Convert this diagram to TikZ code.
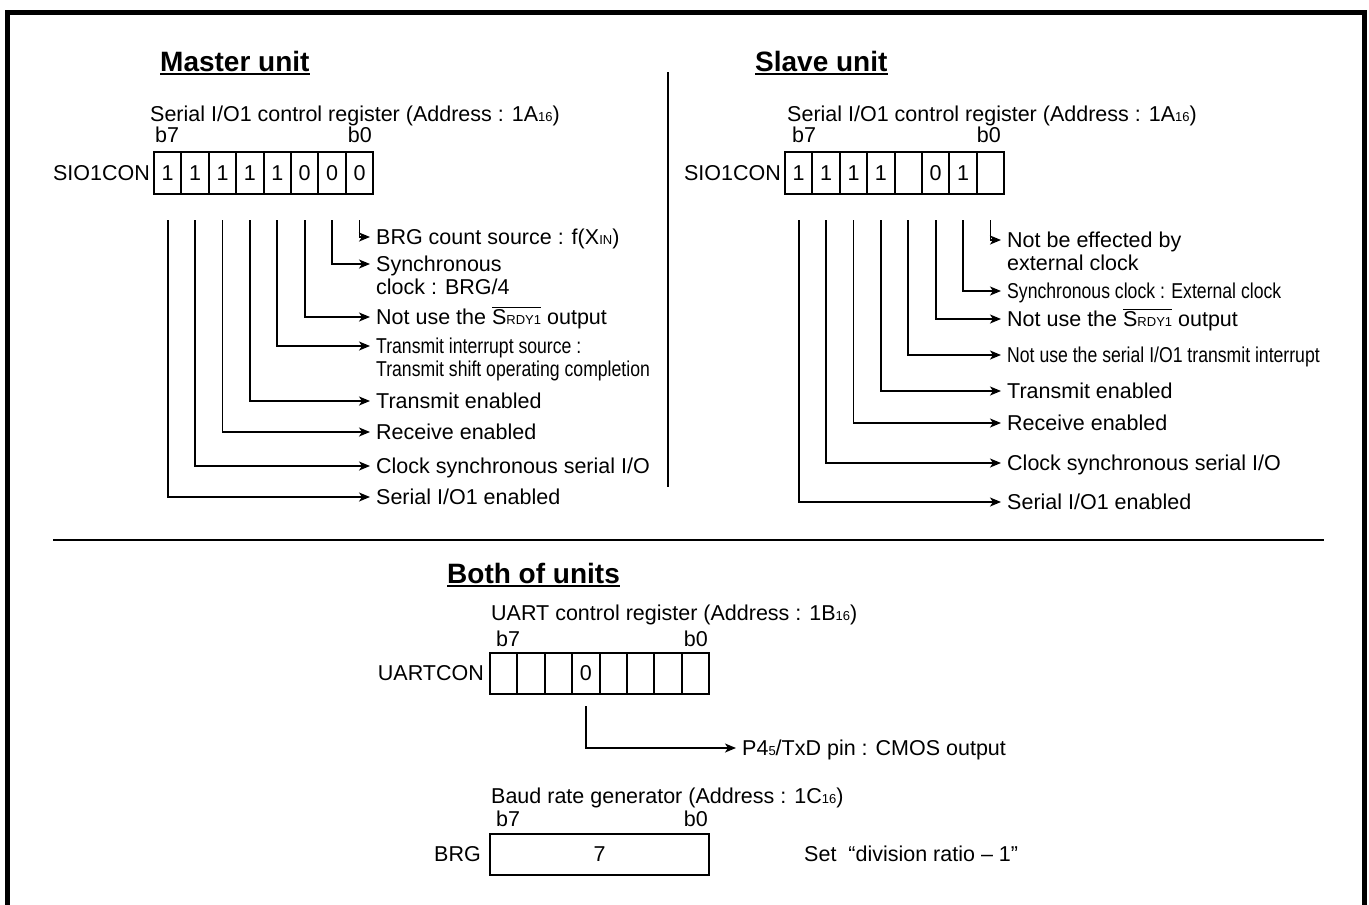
\documentclass[tikz,border=0pt]{standalone}
\usepackage{fontspec}
\setmainfont{Liberation Sans}
\newfontfamily\narrowfont[FakeStretch=0.82]{Liberation Sans}
\usetikzlibrary{arrows.meta}
\newcommand{\smallsz}[1]{{\fontsize{13}{13}\selectfont #1}}
\newcommand{\srdy}{$\overline{\hbox{S\smallsz{RDY1}}}$}
\begin{document}
\begin{tikzpicture}[x=1pt,y=-1pt,
  txt/.style={font=\fontsize{21.5}{23}\selectfont, inner sep=0pt},
  lab/.style={txt, anchor=west, text height=16pt, text depth=2pt},
  nar/.style={lab, font=\narrowfont\fontsize{21.5}{23}\selectfont},
  ttl/.style={font=\bfseries\fontsize{28}{30}\selectfont, inner sep=0pt, anchor=base west},
  cell/.style={txt, draw, line width=2pt, minimum width=27.4pt, minimum height=42pt, text height=16pt, text depth=2pt},
  conn/.style={line width=1.8pt, -{Stealth[length=11pt,width=9pt,inset=3pt]}},
  uline/.style={line width=2pt}]
\fill[white] (0,0) rectangle (1369,905);
\useasboundingbox (0,0) rectangle (1369,905);
% frame
\draw[line width=5pt] (7.5,905) -- (7.5,12) -- (1364.5,12) -- (1364.5,905);
% separators
\draw[line width=2pt] (668,72) -- (668,487);
\draw[line width=2pt] (53,540) -- (1324,540);

% ---------------- Master ----------------
\node[ttl] (mt) at (160,71) {Master unit};
\draw[uline] ([yshift=-3pt]mt.base west) -- ([yshift=-3pt]mt.base east);
\node[txt, anchor=base west] (mreg) at (150,121) {Serial I/O1 control register (Address : 1A\smallsz{16})};
\node[txt, anchor=base west] (mb7) at (155,142) {b7};
\node[txt, anchor=base east] (mb0) at (372,142) {b0};
\foreach \v [count=\k from 0] in {1,1,1,1,1,0,0,0}
  \node[cell] (m\k) at (167.7+27.4*\k,173) {\v};
\node[lab, anchor=east] (mname) at ([xshift=-3pt]m0.west) {SIO1CON};

\node[lab] (l7) at (376,237) {BRG count source : f(X\smallsz{IN})};
\node[lab] (l6) at (376,264) {Synchronous};
\node[lab] (l6b) at (376,287) {clock : BRG/4};
\node[lab] (l5) at (376,317) {Not use the \srdy{} output};
\node[nar] (l4) at (376,346) {Transmit interrupt source :};
\node[nar] (l4b) at (376,369) {Transmit shift operating completion};
\node[lab] (l3) at (376,401) {Transmit enabled};
\node[lab] (l2) at (376,432) {Receive enabled};
\node[lab] (l1) at (376,466) {Clock synchronous serial I/O};
\node[lab] (l0) at (376,497) {Serial I/O1 enabled};
\foreach \k in {0,...,7}
  \draw[conn] ([yshift=-25pt]m\k.south) |- ([xshift=-6pt]l\k.west);

% ---------------- Slave ----------------
\node[ttl] (st) at (755,71) {Slave unit};
\draw[uline] ([yshift=-3pt]st.base west) -- ([yshift=-3pt]st.base east);
\node[txt, anchor=base west] (sreg) at (787,121) {Serial I/O1 control register (Address : 1A\smallsz{16})};
\node[txt, anchor=base west] (sb7) at (792,142) {b7};
\node[txt, anchor=base east] (sb0) at (1001,142) {b0};
\foreach \v [count=\k from 0] in {1,1,1,1,{},0,1,{}}
  \node[cell] (s\k) at (798.7+27.4*\k,173) {\v};
\node[lab, anchor=east] (sname) at ([xshift=-3pt]s0.west) {SIO1CON};

\node[lab] (r7) at (1007,240) {Not be effected by};
\node[lab] (r7b) at (1007,263) {external clock};
\node[nar] (r6) at (1007,291) {Synchronous clock : External clock};
\node[lab] (r5) at (1007,319) {Not use the \srdy{} output};
\node[nar] (r4) at (1007,355) {Not use the serial I/O1 transmit interrupt};
\node[lab] (r3) at (1007,391) {Transmit enabled};
\node[lab] (r2) at (1007,423) {Receive enabled};
\node[lab] (r1) at (1007,463) {Clock synchronous serial I/O};
\node[lab] (r0) at (1007,502) {Serial I/O1 enabled};
\foreach \k in {0,...,7}
  \draw[conn] ([yshift=-25pt]s\k.south) |- ([xshift=-6pt]r\k.west);

% ---------------- Both ----------------
\node[ttl] (bt) at (447,583) {Both of units};
\draw[uline] ([yshift=-3pt]bt.base west) -- ([yshift=-3pt]bt.base east);
\node[txt, anchor=base west] (ureg) at (491,620) {UART control register (Address : 1B\smallsz{16})};
\node[txt, anchor=base west] (ub7) at (496,646) {b7};
\node[txt, anchor=base east] (ub0) at (708,646) {b0};
\foreach \v [count=\k from 0] in {{},{},{},0,{},{},{},{}}
  \node[cell, minimum height=41pt] (u\k) at (503.7+27.4*\k,673.5) {\v};
\node[lab, anchor=east] (uname) at ([xshift=-5pt]u0.west) {UARTCON};
\node[lab] (pl) at (742,748) {P4\smallsz{5}/TxD pin : CMOS output};
\draw[conn] ([yshift=-11pt]u3.south) |- ([xshift=-6pt]pl.west);

\node[txt, anchor=base west] (breg) at (491,803) {Baud rate generator (Address : 1C\smallsz{16})};
\node[txt, anchor=base west] (bb7) at (496,826) {b7};
\node[txt, anchor=base east] (bb0) at (708,826) {b0};
\node[cell, minimum width=219pt, minimum height=41pt] (brg) at (599.5,854.5) {7};
\node[lab, anchor=east] (bname) at ([xshift=-8pt]brg.west) {BRG};
\node[lab] (setl) at (804,854.5) {Set~ “division ratio – 1”};
\end{tikzpicture}
\end{document}
